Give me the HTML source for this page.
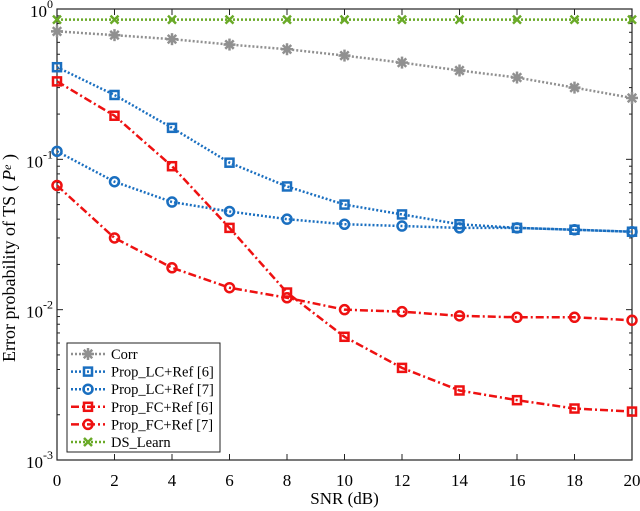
<!DOCTYPE html>
<html><head><meta charset="utf-8"><style>body{margin:0;background:#fff}svg{display:block;font-family:"Liberation Serif",serif}</style></head>
<body>
<svg id="c" width="640" height="511"></svg>
<script>
const snr=[0,2,4,6,8,10,12,14,16,18,20];
const corr=[0.71,0.67,0.63,0.58,0.54,0.49,0.44,0.39,0.35,0.30,0.256];
const lc6=[0.41,0.268,0.162,0.095,0.066,0.050,0.043,0.037,0.035,0.034,0.033];
const lc7=[0.113,0.071,0.052,0.045,0.040,0.037,0.036,0.035,0.035,0.034,0.033];
const fc6=[0.33,0.195,0.09,0.035,0.013,0.0066,0.0041,0.0029,0.0025,0.0022,0.0021];
const fc7=[0.067,0.030,0.019,0.014,0.012,0.010,0.0097,0.0091,0.0089,0.0089,0.0085];
const dsl=[0.85,0.85,0.85,0.85,0.85,0.85,0.85,0.85,0.85,0.85,0.85];
const xTicks=[0,2,4,6,8,10,12,14,16,18,20];
const yExps=[0,-1,-2,-3];
const L=57,R=632,T=9,B=460;
const X=v=>L+(v-0)/20*(R-L);
const Y=v=>B-(Math.log10(v)+3)/3*(B-T);
const svg=document.getElementById('c');const NS='http://www.w3.org/2000/svg';
function el(t,a,p){const e=document.createElementNS(NS,t);for(const k in a)e.setAttribute(k,a[k]);(p||svg).appendChild(e);return e;}
const ax=el('g',{});


el('rect',{x:L,y:T,width:R-L,height:B-T,fill:'none',stroke:'#222','stroke-width':1.2},ax);
xTicks.forEach(t=>{const x=X(t);el('line',{x1:x,x2:x,y1:B,y2:B-6,stroke:'#222'},ax);el('line',{x1:x,x2:x,y1:T,y2:T+6,stroke:'#222'},ax);
const tx=el('text',{x:x,y:B+26,'text-anchor':'middle','font-size':17},ax);tx.textContent=t;

});
yExps.forEach(e=>{const y=Y(Math.pow(10,e));el('line',{x1:L,x2:L+6,y1:y,y2:y,stroke:'#222'},ax);el('line',{x1:R,x2:R-6,y1:y,y2:y,stroke:'#222'},ax);
const tx=el('text',{x:L-4,y:y+8,'text-anchor':'end','font-size':17},ax);tx.innerHTML='10<tspan dy="-9" font-size="12">'+e+'</tspan>';


if(e>-3)for(let m=2;m<10;m++){const yy=Y(m*Math.pow(10,e-1));el('line',{x1:L,x2:L+3,y1:yy,y2:yy,stroke:'#222'},ax);el('line',{x1:R,x2:R-3,y1:yy,y2:yy,stroke:'#222'},ax);}});
const xl=el('text',{x:(L+R)/2,y:504,'text-anchor':'middle','font-size':17});xl.textContent='SNR (dB)';


const yl=el('text',{x:0,y:0,'text-anchor':'middle','font-size':18,transform:`translate(15,258) rotate(-90)`});yl.innerHTML='Error probability of TS ( <tspan font-style="italic">P<tspan font-size="12" dy="-4">e</tspan></tspan><tspan dy="4"> )</tspan>';


function marker(g,type,x,y,c){
 if(type==='sq')el('rect',{x:x-4,y:y-4,width:8,height:8,fill:'none',stroke:c,'stroke-width':2.5},g);
 else if(type==='ci')el('circle',{cx:x,cy:y,r:4.5,fill:'none',stroke:c,'stroke-width':2.5},g);
 else if(type==='x'){el('path',{d:`M${x-4} ${y-4}L${x+4} ${y+4}M${x-4} ${y+4}L${x+4} ${y-4}`,stroke:c,'stroke-width':2.5},g);}
 else {for(let a=0;a<4;a++){const r=a*Math.PI/4;el('line',{x1:x-6*Math.cos(r),y1:y-6*Math.sin(r),x2:x+6*Math.cos(r),y2:y+6*Math.sin(r),stroke:c,'stroke-width':2.5},g);}}
}
const series=[
 {name:'series-corr',d:corr,c:'#909090',m:'st',dash:'2,2',label:'Corr'},
 {name:'series-lc6',d:lc6,c:'#1a6fc0',m:'sq',dash:'2,2',label:'Prop_LC+Ref [6]'},
 {name:'series-lc7',d:lc7,c:'#1a6fc0',m:'ci',dash:'2,2',label:'Prop_LC+Ref [7]'},
 {name:'series-fc6',d:fc6,c:'#ee1111',m:'sq',dash:'8,3,2,3',label:'Prop_FC+Ref [6]'},
 {name:'series-fc7',d:fc7,c:'#ee1111',m:'ci',dash:'8,3,2,3',label:'Prop_FC+Ref [7]'},
 {name:'series-ds-learn',d:dsl,c:'#6aaa28',m:'x',dash:'2,2',label:'DS_Learn'}];
series.forEach(s=>{const g=el('g',{});
 
 
 el('polyline',{points:s.d.map((v,i)=>X(snr[i])+','+Y(v)).join(' '),fill:'none',stroke:s.c,'stroke-width':2.5,'stroke-dasharray':s.dash},g);
 s.d.forEach((v,i)=>marker(g,s.m,X(snr[i]),Y(v),s.c));});
const lg=el('g',{});


el('rect',{x:67,y:343,width:153,height:109,fill:'#fff',stroke:'#222'},lg);
series.forEach((s,i)=>{const y=354+i*17.6;const g=el('g',{},lg);
 
 
 el('line',{x1:71,x2:105,y1:y,y2:y,stroke:s.c,'stroke-width':2.5,'stroke-dasharray':s.dash},g);
 marker(g,s.m,88,y,s.c);
 const t=el('text',{x:111,y:y+5,'font-size':14.5},g);t.textContent=s.label;});
</script>
</body></html>
